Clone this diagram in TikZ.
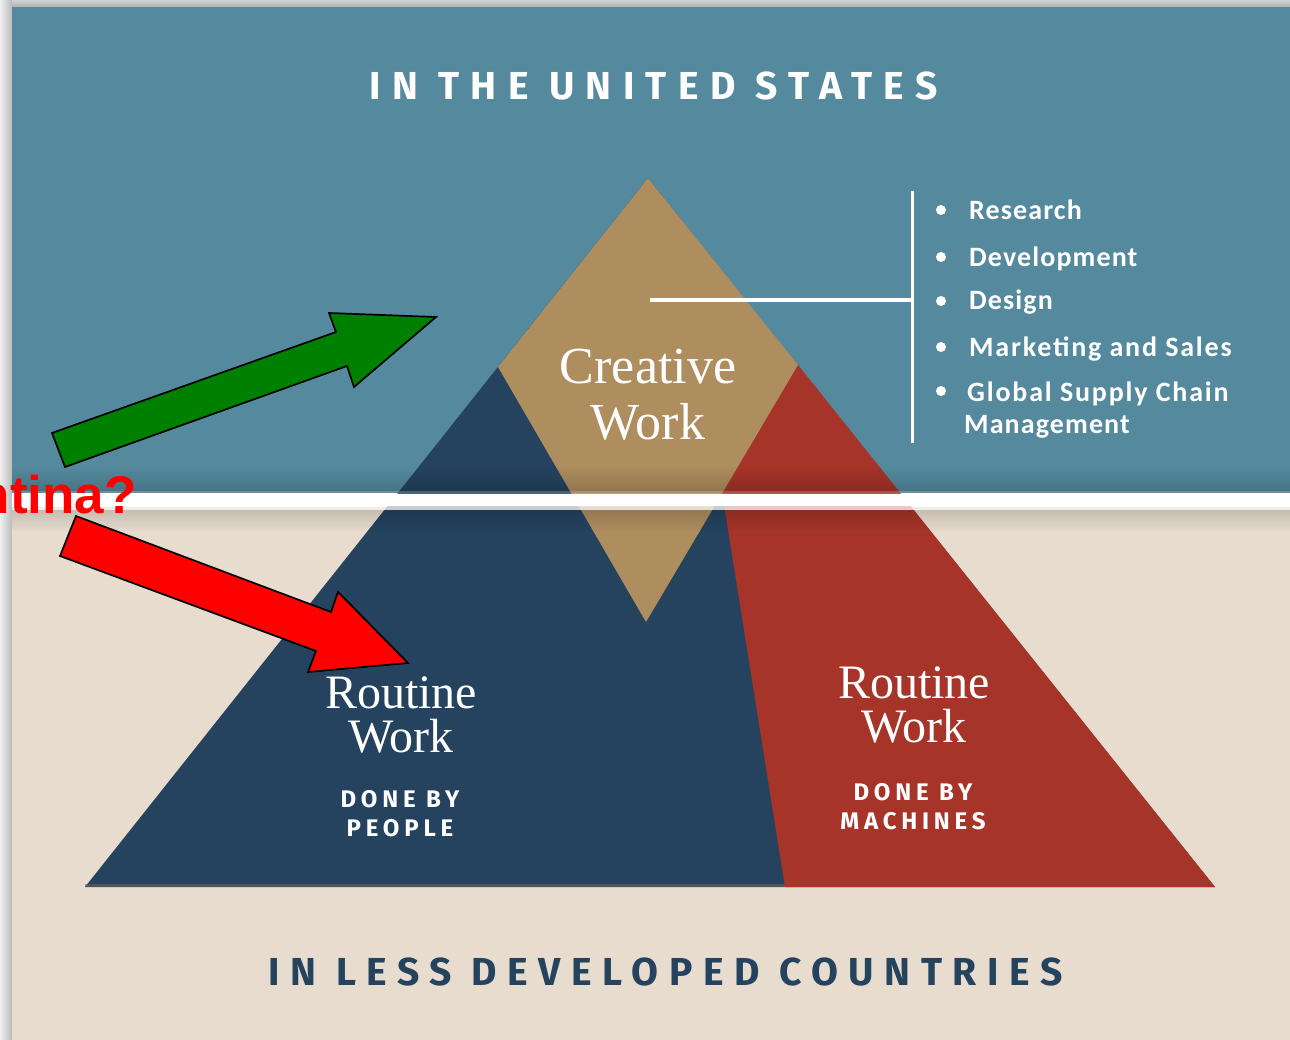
\documentclass[tikz,border=0pt]{standalone}
\usepackage{fontspec}
\setmainfont{Liberation Sans}
\newfontfamily\hfont[Scale=1]{Liberation Sans}
\newfontfamily\serfont{Liberation Serif}
\newfontfamily\listfont[LetterSpace=4]{Carlito}
\newfontfamily\listfontb[LetterSpace=6.5]{Carlito}
\newfontfamily\headfont[LetterSpace=29]{Fira Sans}
\newfontfamily\headfontb[LetterSpace=27]{Fira Sans}
\newfontfamily\smallfont[LetterSpace=20]{Fira Sans}
\usetikzlibrary{fadings}
\definecolor{teal1}{HTML}{558A9E}
\definecolor{sand}{HTML}{E7DCCE}
\definecolor{navy1}{HTML}{25435F}
\definecolor{brick}{HTML}{A63429}
\definecolor{tan1}{HTML}{AE8D5E}
\definecolor{arrowgreen}{HTML}{008000}
\definecolor{bad}{HTML}{FF0000}
\tikzset{
  fatarrow/.style={draw=black,line width=1.7pt,line join=miter},
  headtxt/.style={font=\headfont\fontsize{39}{42}\selectfont\bfseries,inner sep=0pt,anchor=center},
  headtxtb/.style={font=\headfontb\fontsize{39}{42}\selectfont\bfseries,inner sep=0pt,anchor=center},
  sertxt/.style={font=\serfont\fontsize{48}{44}\selectfont,text=white,align=center,inner sep=0pt},
  smalltxt/.style={font=\smallfont\fontsize{24}{29}\selectfont\bfseries,text=white,align=center,inner sep=0pt},
  listtxt/.style={font=\listfont\fontsize{28}{28}\selectfont\bfseries,text=white,anchor=base west,inner sep=0pt},
  listtxtb/.style={font=\listfontb\fontsize{28}{28}\selectfont\bfseries,text=white,anchor=base west,inner sep=0pt},
  bulletdot/.style={circle,fill=white,inner sep=0pt,minimum size=10pt},
  wlineh/.style={draw=white,line width=3.5pt},
  wlinev/.style={draw=white,line width=2.8pt}
}
\begin{document}
\begin{tikzpicture}[x=1pt,y=-1pt]
\useasboundingbox (0,0) rectangle (1290,1040);
\fill[white] (0,0) rectangle (1290,1040);
\shade[left color=black!6,right color=black!27] (0,0) rectangle (12,1040);
\shade[top color=black!18,bottom color=black!30] (12,0) rectangle (1290,7);
\fill[teal1] (12,7) rectangle (1290,493);
\fill[sand] (12,507) rectangle (1290,1040);
% pyramid
\fill[navy1] (648,178) -- (85,887) -- (1215,887) -- cycle;
\fill[brick] (798,365) -- (1215,887) -- (785,887) -- (722,492) -- cycle;
\fill[tan1] (648,178) -- (798,365) -- (646,622) -- (498,367) -- cycle;
\fill[black!55!sand,opacity=.6] (85,884) rectangle (785,887);
% shadows by the white band
\fill[black,opacity=.17,path fading=north] (12,466) rectangle (1290,493);
\fill[black,opacity=.16,path fading=south] (12,507) rectangle (1290,532);
\fill[white] (12,494) rectangle (1290,506);
\fill[white,opacity=.2] (12,491) rectangle (1290,494);
\fill[white,opacity=.75] (12,506) rectangle (1290,510);
% texts
\node[headtxt,text=white] (top) at (653.5,86) {IN THE UNITED STATES};
\node[headtxtb,text=navy1] (bot) at (665.5,972) {IN LESS DEVELOPED COUNTRIES};
\node[sertxt,font=\serfont\fontsize{52}{56}\selectfont] (cw) at (648,395) {Creative\\Work};
\node[sertxt] (rw1) at (401,715) {Routine\\Work};
\node[sertxt] (rw2) at (914,705) {Routine\\Work};
\node[smalltxt] (dp) at (400,814) {DONE BY\\PEOPLE};
\node[smalltxt] (dm) at (913,807) {DONE BY\\MACHINES};
% bracket
\coordinate (c1) at (650,300);
\coordinate (c2) at (912,300);
\coordinate (v1) at (912.5,191);
\coordinate (v2) at (912.5,443);
\draw[wlineh] (c1) -- (c2);
\draw[wlinev] (v1) -- (v2);
% list
\node[bulletdot] (b1) at (941,210) {};
\node[bulletdot] (b2) at (941,257) {};
\node[bulletdot] (b3) at (941,301) {};
\node[bulletdot] (b4) at (941,347) {};
\node[bulletdot] (b5) at (941,391) {};
\node[listtxt] (l1) at (969,220) {Research};
\node[listtxt] (l2) at (969,267) {Development};
\node[listtxt] (l3) at (969,310) {Design};
\node[listtxtb] (l4) at (969,357) {Marketing and Sales};
\node[listtxtb] (l5) at (967,401) {Global Supply Chain};
\node[listtxt] (l6) at (964,433) {Management};
% red and green arrows
\filldraw[fatarrow,fill=arrowgreen] (52,433) -- (336,332) -- (329,313) -- (436,317) -- (354,387) -- (347,366) -- (65,467) -- cycle;
\filldraw[fatarrow,fill=bad] (76,516) -- (331,612) -- (338,592) -- (408,663) -- (308,672) -- (316,651) -- (60,556) -- cycle;
\begin{scope}
\clip (0,0) rectangle (1290,1040);
\node[font=\hfont\bfseries\fontsize{53}{53}\selectfont,text=bad,anchor=base east,inner sep=0pt] (q) at (137,513) {ntina?};
\end{scope}
\end{tikzpicture}
\end{document}
